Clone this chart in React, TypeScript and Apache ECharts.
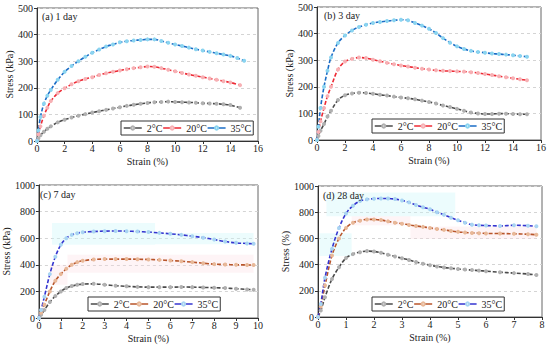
import React, { useEffect, useRef } from "react";
import * as echarts from "echarts";

const FONT = "'Liberation Serif', 'Times New Roman', Times, serif";

// ---------- (a) 1 day ----------
const aStrain35 = [0, 0.1, 0.25, 0.5, 0.75, 1, 1.5, 2, 2.5, 3, 3.5, 4, 4.5, 5, 5.5, 6, 6.5, 7, 7.5, 8, 8.5, 9, 9.5, 10, 10.5, 11, 11.5, 12, 12.5, 13, 13.5, 14, 14.5, 15];
const aStress35 = [0, 40, 90, 140, 170, 192, 230, 260, 282, 300, 317, 332, 344, 355, 363, 371, 375, 378, 380, 382, 382, 376, 369, 363, 357, 351, 345, 340, 335, 330, 325, 320, 312, 302];
const aStrain20 = [0, 0.1, 0.25, 0.5, 0.75, 1, 1.5, 2, 2.5, 3, 3.5, 4, 4.5, 5, 5.5, 6, 6.5, 7, 7.5, 8, 8.5, 9, 9.5, 10, 10.5, 11, 11.5, 12, 12.5, 13, 13.5, 14, 14.7];
const aStress20 = [0, 25, 55, 95, 125, 150, 180, 198, 213, 225, 233, 240, 248, 255, 260, 265, 270, 274, 277, 280, 279, 274, 268, 262, 256, 250, 245, 240, 235, 230, 225, 220, 210];
const aStrain2 = [0, 0.1, 0.25, 0.5, 0.75, 1, 1.5, 2, 2.5, 3, 3.5, 4, 4.5, 5, 5.5, 6, 6.5, 7, 7.5, 8, 8.5, 9, 9.5, 10, 10.5, 11, 11.5, 12, 12.5, 13, 13.5, 14, 14.7];
const aStress2 = [0, 10, 22, 35, 46, 55, 70, 80, 88, 95, 101, 107, 112, 117, 122, 127, 132, 136, 140, 143, 146, 147, 148, 147, 146, 145, 144, 142, 141, 140, 138, 135, 125];

// ---------- (b) 3 day ----------
const bStrain = [0, 0.1, 0.25, 0.5, 0.75, 1, 1.5, 2, 2.5, 3, 3.5, 4, 4.5, 5, 5.5, 6, 6.5, 7, 7.5, 8, 8.5, 9, 9.5, 10, 10.5, 11, 11.5, 12, 12.5, 13, 13.5, 14, 14.5, 15];
const bStress35 = [0, 50, 120, 200, 260, 310, 365, 393, 412, 425, 433, 440, 444, 447, 450, 452, 450, 440, 430, 418, 402, 383, 366, 352, 342, 335, 331, 328, 325, 323, 321, 319, 316, 313];
const bStress20 = [0, 30, 70, 120, 165, 200, 265, 295, 305, 310, 308, 302, 296, 290, 285, 280, 276, 272, 268, 265, 262, 260, 259, 258, 257, 255, 252, 248, 244, 240, 236, 232, 228, 225];
const bStress2 = [0, 15, 35, 60, 88, 110, 150, 168, 175, 178, 177, 174, 170, 167, 163, 160, 157, 153, 148, 143, 137, 130, 124, 117, 110, 103, 100, 98, 98, 99, 99, 98, 97, 97];

// ---------- (c) 7 day ----------
const cStrain = [0, 0.1, 0.25, 0.5, 0.75, 1, 1.25, 1.5, 1.75, 2, 2.5, 3, 3.5, 4, 4.5, 5, 5.5, 6, 6.5, 7, 7.5, 8, 8.5, 9, 9.5, 9.8];
const cStress35 = [0, 60, 160, 330, 460, 550, 600, 625, 638, 645, 650, 653, 654, 653, 650, 646, 640, 633, 625, 615, 604, 590, 575, 565, 560, 558];
const cStress20 = [0, 40, 100, 200, 280, 330, 370, 400, 420, 430, 440, 443, 443, 443, 442, 440, 437, 432, 427, 420, 412, 405, 402, 400, 399, 398];
const cStress2 = [0, 25, 60, 120, 165, 200, 225, 240, 250, 255, 257, 250, 243, 238, 234, 232, 232, 232, 233, 232, 230, 228, 225, 220, 215, 212];

// ---------- (d) 28 day ----------
const dStrain = [0, 0.1, 0.25, 0.5, 0.75, 1, 1.25, 1.5, 1.75, 2, 2.25, 2.5, 2.75, 3, 3.25, 3.5, 3.75, 4, 4.25, 4.5, 4.75, 5, 5.25, 5.5, 5.75, 6, 6.5, 7, 7.5, 7.8];
const dStress35 = [0, 100, 300, 520, 680, 790, 850, 885, 898, 903, 905, 905, 900, 890, 875, 855, 838, 822, 800, 780, 758, 738, 720, 705, 700, 698, 695, 700, 697, 692];
const dStress20 = [0, 80, 240, 470, 600, 680, 720, 735, 745, 745, 740, 730, 720, 712, 703, 695, 688, 680, 672, 665, 657, 650, 645, 642, 640, 638, 637, 635, 632, 628];
const dStress2 = [0, 50, 150, 290, 380, 450, 480, 495, 503, 500, 490, 475, 462, 448, 435, 420, 407, 395, 386, 378, 372, 367, 362, 358, 354, 350, 342, 335, 328, 320];

const legendLabels = ["2°C", "20°C", "35°C"];
const panelTitles = ["(a) 1 day", "(b) 3 day", "(c) 7 day", "(d) 28 day"];
const yNames = ["Stress (kPa)", "Stress (kPa)", "Stress (kPa)", "Stress (%)"];
const xName = "Strain (%)";

const pairs = (xs: number[], ys: number[]) => xs.map((x, i) => [x, ys[i]]);

export default function App() {
  const ref = useRef<HTMLDivElement>(null);
  useEffect(() => {
    if (!ref.current) return;
    const chart = echarts.init(ref.current, null, { renderer: "svg" });

    const grids = [
      { left: 37, top: 8, width: 221, height: 133 },
      { left: 317, top: 7, width: 224, height: 133 },
      { left: 35, top: 185, width: 223, height: 133 },
      { left: 318, top: 186, width: 224, height: 131 },
    ];
    const xRanges = [
      [0, 16, 2],
      [0, 16, 2],
      [0, 10, 1],
      [0, 8, 1],
    ];
    const yRanges = [
      [0, 500, 100],
      [0, 500, 100],
      [0, 1000, 200],
      [0, 1000, 200],
    ];
    const yNameGaps = [22, 21, 22, 24];

    const txt = { fontFamily: FONT, fontSize: 10, color: "#222" };

    const xAxis = xRanges.map((r, i) => ({
      type: "value",
      gridIndex: i,
      min: r[0],
      max: r[1],
      interval: r[2],
      name: xName,
      nameLocation: "middle",
      nameGap: 15,
      nameTextStyle: { ...txt },
      axisLine: { show: true, onZero: false, lineStyle: { color: "#333", width: 1 } },
      axisTick: { show: true, inside: false, length: 3, lineStyle: { color: "#333" } },
      axisLabel: { ...txt, margin: 2, formatter: (v: number) => String(v) },
      splitLine: { show: false },
    }));
    const yAxis = yRanges.map((r, i) => ({
      type: "value",
      gridIndex: i,
      min: r[0],
      max: r[1],
      interval: r[2],
      name: yNames[i],
      nameLocation: "middle",
      nameGap: yNameGaps[i],
      nameTextStyle: { ...txt },
      axisLine: { show: true, onZero: false, lineStyle: { color: "#333", width: 1 } },
      axisTick: { show: true, inside: false, length: 3, lineStyle: { color: "#333" } },
      axisLabel: { ...txt, margin: 4, formatter: (v: number) => String(v) },
      splitLine: { show: true, lineStyle: { color: "#d4d4d4", type: [3, 3], width: 1 } },
    }));

    const mk = (
      id: string,
      idx: number,
      data: number[][],
      lineColor: string,
      markerColor: string,
      markArea?: any
    ) => ({
      type: "line",
      name: id,
      xAxisIndex: idx,
      yAxisIndex: idx,
      data,
      smooth: 0.35,
      symbol: "emptyCircle",
      symbolSize: 2,
      showSymbol: true,
      showAllSymbol: true,
      itemStyle: { color: markerColor, borderWidth: 0.5 },
      lineStyle: { color: lineColor, width: 1.6, type: [4, 2] },
      markArea: markArea
        ? { silent: true, itemStyle: markArea.style, data: markArea.data }
        : undefined,
      z: 3,
    });

    const gray = "#4a4a4a", grayM = "#b0b0b0";
    const red = "#ee2a35", redM = "#f7b0b4";
    const blue = "#1a6cc6", blueM = "#8ad4f0";
    const brown = "#b8552a", brownM = "#e8b898";
    const violet = "#3434d0", violetM = "#a8d4f2";

    const pink = "rgba(252,215,222,0.28)";
    const cyan = "rgba(200,245,250,0.35)";

    const series = [
      mk("a2", 0, pairs(aStrain2, aStress2), gray, grayM),
      mk("a20", 0, pairs(aStrain20, aStress20), red, redM),
      mk("a35", 0, pairs(aStrain35, aStress35), blue, blueM),
      mk("b2", 1, pairs(bStrain, bStress2), gray, grayM),
      mk("b20", 1, pairs(bStrain, bStress20), red, redM),
      mk("b35", 1, pairs(bStrain, bStress35), blue, blueM),
      mk("c2", 2, pairs(cStrain, cStress2), gray, grayM),
      mk("c20", 2, pairs(cStrain, cStress20), brown, brownM, {
        style: { color: pink },
        data: [
          [{ xAxis: 1.3, yAxis: 340 }, { xAxis: 9.8, yAxis: 475 }],
          [{ xAxis: 0.5, yAxis: 250 }, { xAxis: 1.3, yAxis: 400 }],
        ],
      }),
      mk("c35", 2, pairs(cStrain, cStress35), violet, violetM, {
        style: { color: cyan },
        data: [
          [{ xAxis: 0.6, yAxis: 550 }, { xAxis: 5.3, yAxis: 715 }],
          [{ xAxis: 5.3, yAxis: 555 }, { xAxis: 9.8, yAxis: 640 }],
        ],
      }),
      mk("d2", 3, pairs(dStrain, dStress2), gray, grayM),
      mk("d20", 3, pairs(dStrain, dStress20), brown, brownM, {
        style: { color: pink },
        data: [
          [{ xAxis: 1.2, yAxis: 700 }, { xAxis: 3.3, yAxis: 770 }],
          [{ xAxis: 3.3, yAxis: 595 }, { xAxis: 7.8, yAxis: 690 }],
        ],
      }),
      mk("d35", 3, pairs(dStrain, dStress35), violet, violetM, {
        style: { color: cyan },
        data: [
          [{ xAxis: 0.3, yAxis: 770 }, { xAxis: 4.9, yAxis: 950 }],
          [{ xAxis: 0.05, yAxis: 465 }, { xAxis: 1.2, yAxis: 640 }],
        ],
      }),
    ];

    const legendPos = [
      { left: 121, top: 121 },
      { left: 372, top: 119 },
      { left: 88, top: 297 },
      { left: 372, top: 297 },
    ];
    const prefixes = ["a", "b", "c", "d"];
    const labelMap: Record<string, string> = {};
    prefixes.forEach((p) => {
      labelMap[p + "2"] = legendLabels[0];
      labelMap[p + "20"] = legendLabels[1];
      labelMap[p + "35"] = legendLabels[2];
    });

    const legend = prefixes.map((p, i) => ({
      ...legendPos[i],
      orient: "horizontal",
      data: [p + "2", p + "20", p + "35"],
      formatter: (n: string) => labelMap[n],
      itemWidth: 18,
      itemHeight: 4,
      itemGap: 0,
      padding: [2, 2, 2, 2],
      borderColor: "#333",
      borderWidth: 1,
      borderRadius: 0,
      selectedMode: false,
      textStyle: { fontFamily: FONT, fontSize: 10, color: "#222" },
      lineStyle: { type: "solid", width: 1.5 },
    }));

    const titlePos = [
      { left: 42, top: 11 },
      { left: 324, top: 10 },
      { left: 40, top: 189 },
      { left: 323, top: 190 },
    ];
    const title = panelTitles.map((t, i) => ({
      text: t,
      ...titlePos[i],
      padding: 0,
      textStyle: { fontFamily: FONT, fontSize: 10, fontWeight: "normal", color: "#222" },
    }));

    chart.setOption({
      animation: false,
      backgroundColor: "#ffffff",
      textStyle: { fontFamily: FONT },
      title,
      grid: grids.map((g) => ({ ...g, show: true, borderColor: "#666", borderWidth: 1, containLabel: false })),
      xAxis,
      yAxis,
      legend,
      series,
    });
    return () => chart.dispose();
  }, []);
  return (
    <div
      ref={ref}
      style={{ position: "fixed", left: 0, top: 0, width: 550, height: 346, background: "#fff" }}
    />
  );
}
